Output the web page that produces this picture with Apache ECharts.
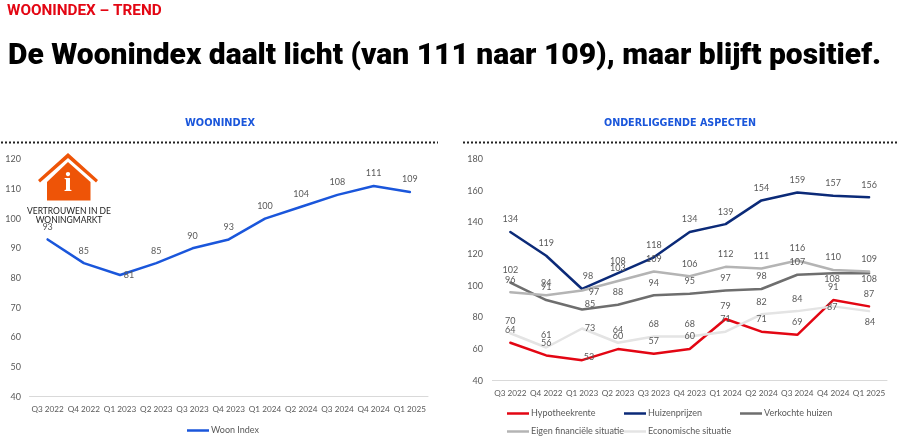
<!DOCTYPE html>
<html><head><meta charset="utf-8">
<style>html,body{margin:0;padding:0;background:#fff}#c{width:900px;height:443px}</style>
<script src="https://cdn.jsdelivr.net/npm/echarts@6/dist/echarts.min.js"></script>
</head><body><div id="c"></div>
<script>
const categories = ['Q3 2022','Q4 2022','Q1 2023','Q2 2023','Q3 2023','Q4 2023','Q1 2024','Q2 2024','Q3 2024','Q4 2024','Q1 2025'];
const woonIndex = [93,85,81,85,90,93,100,104,108,111,109];
const hypotheekrente = [64,56,53,60,57,60,79,71,69,91,87];
const huizenprijzen = [134,119,98,108,118,134,139,154,159,157,156];
const verkochteHuizen = [102,91,85,88,94,95,97,98,107,108,108];
const eigenFinancieel = [96,94,97,103,109,106,112,111,116,110,109];
const economisch = [70,61,73,64,68,68,71,82,84,87,84];
const leftTicks = {min:40,max:120,interval:10};
const rightTicks = {min:40,max:180,interval:20};

// label nudges by category index: [dx, dy]
const nudgeWoon = {2:[9,13]};
const nudgeHypo = {2:[7,9]};
const nudgeHuizen = {2:[6,0]};
const nudgeVerk = {2:[8,7],9:[-1,18],10:[0,18]};
const nudgeEigen = {2:[12,14]};
const nudgeEcon = {2:[8,12],9:[-1,13],10:[1,23]};

const TXT = '#595959', FONT = 'Lato';
function line(name, vals, color, nudge, ax, width){
  return {name, type:'line', xAxisIndex:ax, yAxisIndex:ax, data:vals, symbol:'circle', symbolSize:0, showSymbol:true, smooth:false,
    lineStyle:{color, width:width||2.5, cap:'round'}, itemStyle:{color},
    labelLayout:function(p){const n=nudge[p.dataIndex]||[0,0];return {dx:n[0],dy:n[1],hideOverlap:false};},
    label:{show:true, position:'top', distance:8, color:TXT, fontFamily:FONT, fontSize:9}};
}
function xAx(idx){return {gridIndex:idx,type:'category',data:categories,boundaryGap:true,
  axisLine:{lineStyle:{color:'#d9d9d9',width:1}},axisTick:{show:false},
  axisLabel:{color:TXT,fontFamily:FONT,fontSize:8.2,interval:0,margin:9}};}
function yAx(idx,t,m){return {gridIndex:idx,type:'value',min:t.min,max:t.max,interval:t.interval,
  axisLine:{show:false},axisTick:{show:false},splitLine:{show:false},
  axisLabel:{color:TXT,fontFamily:FONT,fontSize:9,margin:m}};}
function leg(name,left,top){return {data:[name],left,top,orient:'horizontal',itemWidth:22,itemHeight:2.5,itemGap:0,padding:0,
  textStyle:{color:TXT,fontFamily:FONT,fontSize:9,padding:[0,0,0,-3]},icon:'rect'};}

const chart = echarts.init(document.getElementById('c'));
chart.setOption({
  animation:false, backgroundColor:'#fff',
  title:[
    {text:'WOONINDEX – TREND',left:7,top:4,padding:0,textStyle:{color:'#e30613',fontFamily:'Roboto',fontWeight:700,fontSize:15.3}},
    {text:'De Woonindex daalt licht (van 111 naar 109), maar blijft positief.',left:8,top:41,padding:0,
      textStyle:{color:'#000',fontFamily:'Roboto',fontWeight:900,fontSize:30}},
    {text:'WOONINDEX',left:220,top:118,textAlign:'center',padding:0,textStyle:{color:'#1a56db',fontFamily:'DejaVu Sans',fontWeight:700,fontSize:9.8}},
    {text:'ONDERLIGGENDE ASPECTEN',left:680,top:118,textAlign:'center',padding:0,textStyle:{color:'#1a56db',fontFamily:'DejaVu Sans',fontWeight:700,fontSize:9.6}}
  ],
  grid:[
    {left:29.5,right:472,top:159.3,height:237.4,containLabel:false},
    {left:492.4,right:13,top:159.3,height:221.4,containLabel:false}
  ],
  xAxis:[xAx(0),xAx(1)],
  yAxis:[yAx(0,leftTicks,8.5),yAx(1,rightTicks,9.5)],
  legend:[
    leg('Woon Index',187,426),
    leg('Hypotheekrente',507,409),
    leg('Huizenprijzen',624,409),
    leg('Verkochte huizen',740,409),
    leg('Eigen financiële situatie',507,427),
    leg('Economische situatie',624,427)
  ],
  series:[
    line('Woon Index',woonIndex,'#1a56db',nudgeWoon,0),
    line('Hypotheekrente',hypotheekrente,'#e30613',nudgeHypo,1),
    line('Huizenprijzen',huizenprijzen,'#0b2a78',nudgeHuizen,1),
    line('Verkochte huizen',verkochteHuizen,'#6e6e6e',nudgeVerk,1),
    line('Eigen financiële situatie',eigenFinancieel,'#b4b4b4',nudgeEigen,1),
    line('Economische situatie',economisch,'#e4e4e4',nudgeEcon,1)
  ],
  graphic:[
    {type:'line',shape:{x1:1,y1:142.5,x2:438,y2:142.5},style:{stroke:'#222',lineWidth:2,lineDash:[2,2]}},
    {type:'line',shape:{x1:463,y1:142.5,x2:897,y2:142.5},style:{stroke:'#222',lineWidth:2,lineDash:[2,2]}},
    {type:'polygon',shape:{points:[[38,180],[68,153],[98,180],[96,182.5],[68,158],[40,182.5]]},style:{fill:'#ee5407'}},
    {type:'polygon',shape:{points:[[47,182],[68,162],[90.5,182],[90.5,200.5],[47,200.5]]},style:{fill:'#ee5407'}},
    {type:'text',x:68,y:170,style:{text:'i',fill:'#fff',fontFamily:'Liberation Serif',fontWeight:700,fontSize:28,align:'center'}},
    {type:'text',x:69,y:207,style:{text:'VERTROUWEN IN DE\nWONINGMARKT',fill:'#222',fontFamily:FONT,fontSize:8.5,lineHeight:9,align:'center'}}
  ]
});
</script></body></html>
